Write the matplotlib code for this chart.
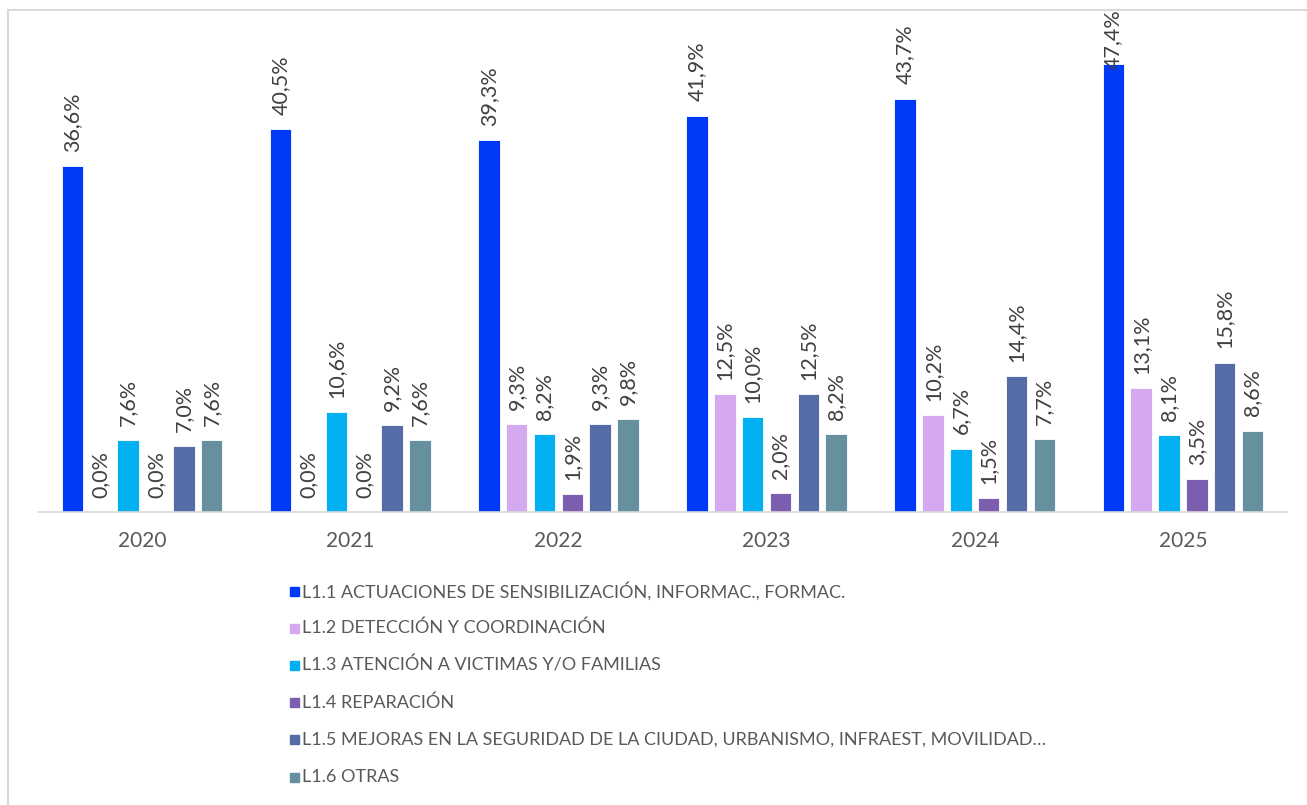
import matplotlib.pyplot as plt
from matplotlib.lines import Line2D
import numpy as np

years = ["2020", "2021", "2022", "2023", "2024", "2025"]
series = [
    "L1.1 ACTUACIONES DE SENSIBILIZACIÓN, INFORMAC., FORMAC.",
    "L1.2 DETECCIÓN Y COORDINACIÓN",
    "L1.3 ATENCIÓN A VICTIMAS Y/O FAMILIAS",
    "L1.4 REPARACIÓN",
    "L1.5 MEJORAS EN LA SEGURIDAD DE LA CIUDAD, URBANISMO, INFRAEST, MOVILIDAD…",
    "L1.6 OTRAS",
]
l11 = [36.6, 40.5, 39.3, 41.9, 43.7, 47.4]
l12 = [0.0, 0.0, 9.3, 12.5, 10.2, 13.1]
l13 = [7.6, 10.6, 8.2, 10.0, 6.7, 8.1]
l14 = [0.0, 0.0, 1.9, 2.0, 1.5, 3.5]
l15 = [7.0, 9.2, 9.3, 12.5, 14.4, 15.8]
l16 = [7.6, 7.6, 9.8, 8.2, 7.7, 8.6]
values = [l11, l12, l13, l14, l15, l16]
colors = ["#0039F7", "#D5A9F0", "#00B0F0", "#7B5EB0", "#566CA6", "#66909E"]

plt.rcParams['font.family'] = ['Lato', 'DejaVu Sans']

fig = plt.figure(figsize=(13.07, 8.05), dpi=100)
W, H = 1307, 805
# axes: x 38..1287 px, baseline at y=512, top at y=20
ax = fig.add_axes([38 / W, 1 - 512 / H, 1249 / W, 492 / H])

x = np.arange(len(years))
slot = 0.1337
width = 0.104
for i, (vals, col) in enumerate(zip(values, colors)):
    pos = x + (i - 2.5) * slot
    ax.bar(pos, vals, width, color=col, edgecolor="white", linewidth=0.6, label=series[i])
    for px, v in zip(pos, vals):
        # top label pushed down a bit so it stays inside the chart, as in the original
        off = 1.5 if v < 46 else -0.6
        ax.text(px, v + off, f"{v:.1f}%".replace(".", ","), rotation=90,
                ha="center", va="bottom", fontsize=15.5, color="#404040")

ax.set_xlim(-0.5, 5.5)
ax.set_ylim(0, 52)
ax.set_xticks(x)
ax.set_xticklabels(years, fontsize=15, color="#595959")
ax.tick_params(axis="x", length=0, pad=14)
ax.set_yticks([])
for s in ["top", "right", "left"]:
    ax.spines[s].set_visible(False)
ax.spines["bottom"].set_color("#D9D9D9")
ax.spines["bottom"].set_linewidth(1.2)

# legend rows
for i, (name, col) in enumerate(zip(series, colors)):
    yy = 1 - (591 + i * 37.2) / H
    fig.patches.append(plt.Rectangle((290 / W, yy - 4.5 / H), 9 / W, 9 / H,
                                     transform=fig.transFigure, color=col))
    fig.text(302 / W, yy, name, fontsize=13, color="#595959", va="center", ha="left")

# chart border
fig.add_artist(Line2D([8 / W, 8 / W], [0, 1 - 10 / H], transform=fig.transFigure,
                      color="#D9D9D9", linewidth=1.5))
fig.add_artist(Line2D([8 / W, 1], [1 - 10 / H, 1 - 10 / H], transform=fig.transFigure,
                      color="#D9D9D9", linewidth=1.5))

fig.savefig("out.png", dpi=100)
